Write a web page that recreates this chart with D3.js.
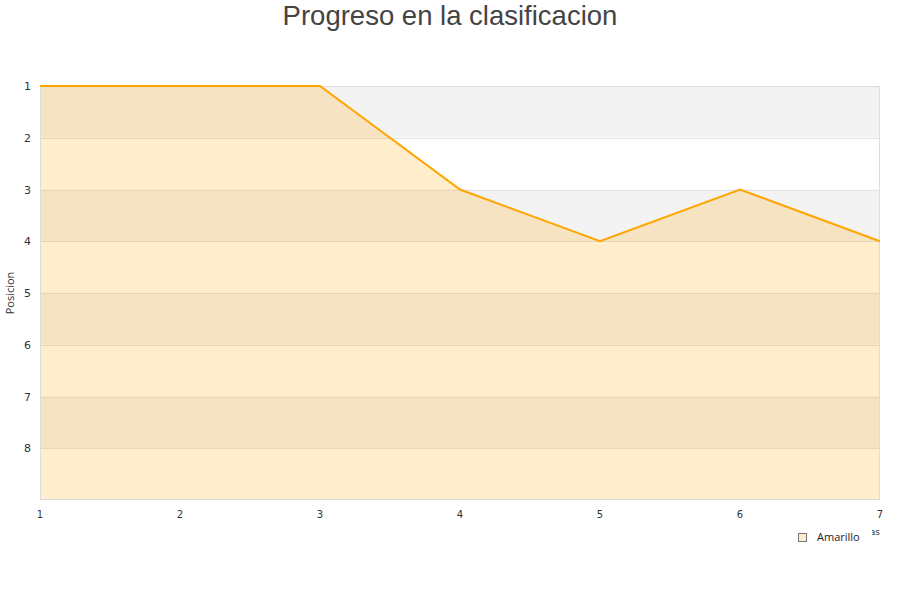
<!DOCTYPE html>
<html><head><meta charset="utf-8">
<script src="https://cdn.jsdelivr.net/npm/d3@7"></script>
<style>body{margin:0;background:#fff}svg{display:block}</style>
</head><body>
<svg id="c" width="900" height="600"></svg>
<script>
const jornadas = [1, 2, 3, 4, 5, 6, 7];
const posiciones = [1, 1, 1, 3, 4, 3, 4];
const yTicks = [1, 2, 3, 4, 5, 6, 7, 8];
const seriesName = "Amarillo";
const title = "Progreso en la clasificacion";

const svg = d3.select("#c");
const m = {l: 40, r: 880, t: 86, b: 500};
const x = d3.scaleLinear().domain([1, 7]).range([m.l, m.r]);
const y = d3.scaleLinear().domain([1, 9]).range([m.t, m.b]);

// bands
const bands = d3.range(1, 9);
svg.selectAll("rect.band").data(bands).enter().append("rect")
  .attr("x", m.l).attr("width", m.r - m.l)
  .attr("y", d => y(d)).attr("height", d => y(d + 1) - y(d))
  .attr("fill", d => d % 2 === 1 ? "#f3f3f3" : "#ffffff");

// gridlines
svg.selectAll("line.grid").data(d3.range(2, 9)).enter().append("line")
  .attr("x1", m.l).attr("x2", m.r)
  .attr("y1", d => Math.round(y(d)) + 0.5).attr("y2", d => Math.round(y(d)) + 0.5)
  .attr("stroke", "#e2e2e2").attr("stroke-width", 1);

const pts = jornadas.map((j, i) => [j, posiciones[i]]);
const area = d3.area().x(d => x(d[0])).y0(y(9)).y1(d => y(d[1]));
svg.append("path").datum(pts).attr("d", area).attr("fill", "rgba(255,165,0,0.2)");

// border
svg.append("rect").attr("x", m.l + 0.5).attr("y", m.t + 0.5)
  .attr("width", m.r - m.l - 1).attr("height", m.b - m.t - 1)
  .attr("fill", "none").attr("stroke", "#dcdcdc");

const line = d3.line().x(d => x(d[0])).y(d => y(d[1]));
svg.append("path").datum(pts).attr("d", line)
  .attr("fill", "none").attr("stroke", "#ffa500").attr("stroke-width", 2);

// y axis labels
svg.selectAll("text.yt").data(yTicks).enter().append("text")
  .attr("x", 31).attr("y", d => y(d) + 4).attr("text-anchor", "end")
  .attr("font-family", "DejaVu Sans, sans-serif").attr("font-size", 11).attr("fill", "#333")
  .text(d => d);

// x axis labels
svg.selectAll("text.xt").data(jornadas).enter().append("text")
  .attr("x", d => x(d)).attr("y", 518).attr("text-anchor", "middle")
  .attr("font-family", "DejaVu Sans, sans-serif").attr("font-size", 10).attr("fill", "#333")
  .text(d => d);

// y axis title
svg.append("text").attr("transform", "translate(14,293) rotate(-90)")
  .attr("text-anchor", "middle").attr("font-family", "Open Sans, sans-serif")
  .attr("font-size", 11).attr("fill", "#333").text("Posicion");

// x axis title (partially hidden by legend)
svg.append("text").attr("x", 880).attr("y", 535).attr("text-anchor", "end")
  .attr("font-family", "DejaVu Sans, sans-serif").attr("font-size", 9).attr("fill", "#333")
  .text("Jornadas");

// legend
const lg = svg.append("g");
lg.append("rect").attr("x", 792).attr("y", 528).attr("width", 80).attr("height", 19).attr("fill", "#fff");
lg.append("rect").attr("x", 798.5).attr("y", 533.5).attr("width", 8).attr("height", 8)
  .attr("fill", "#feebcd").attr("stroke", "#777");
lg.append("text").attr("x", 817).attr("y", 541).attr("font-family", "Open Sans, sans-serif")
  .attr("font-size", 11).attr("fill", "#222").text(seriesName);

// title
svg.append("text").attr("x", 450).attr("y", 25).attr("text-anchor", "middle")
  .attr("font-family", "Liberation Sans, Arial, sans-serif").attr("font-size", 27.5)
  .attr("fill", "#444").text(title);
</script>
</body></html>
